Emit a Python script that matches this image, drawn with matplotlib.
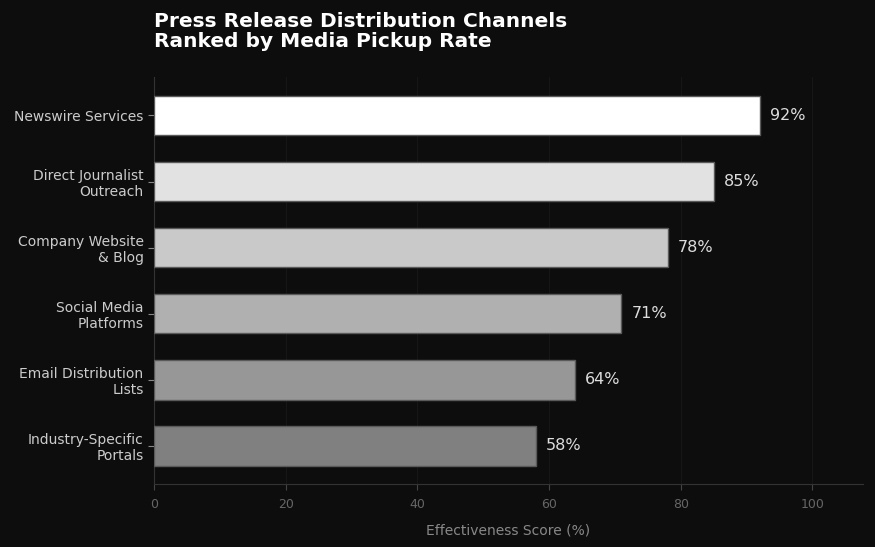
import matplotlib
matplotlib.use("Agg")
import matplotlib.pyplot as plt

channels = ["Newswire Services", "Direct Journalist\nOutreach", "Company Website\n& Blog",
            "Social Media\nPlatforms", "Email Distribution\nLists", "Industry-Specific\nPortals"]
scores = [92, 85, 78, 71, 64, 58]
bar_colors = ["#ffffff", "#e2e2e2", "#c9c9c9", "#b0b0b0", "#979797", "#808080"]
xticks = [0, 20, 40, 60, 80, 100]

bg = "#0d0d0d"
fig = plt.figure(figsize=(8.75, 5.47), dpi=100, facecolor=bg)
ax = fig.add_axes([0.176, 0.115, 0.81, 0.744], facecolor=bg)

y = list(range(len(channels)))
ax.barh(y, scores, height=0.6, color=bar_colors, edgecolor="#5a5a5a", linewidth=1, zorder=3)
ax.invert_yaxis()
ax.set_yticks(y)
ax.set_yticklabels(channels, color="#cccccc", fontsize=10)
ax.set_xticks(xticks)
ax.set_xticklabels([str(t) for t in xticks], color="#666666", fontsize=9)
ax.set_xlim(0, max(scores) * 1.17)

for yi, v in zip(y, scores):
    ax.text(v + 1.5, yi, f"{v}%", va="center", ha="left", color="#dddddd", fontsize=11.5, zorder=4)

ax.grid(axis="x", color="#161616", linewidth=0.8, zorder=0)
ax.set_axisbelow(True)
for s in ["top", "right"]:
    ax.spines[s].set_visible(False)
ax.spines["left"].set_color("#333333")
ax.spines["bottom"].set_color("#333333")
ax.tick_params(axis="x", colors="#444444", labelcolor="#666666", length=4, pad=6)
ax.tick_params(axis="y", colors="#888888", labelcolor="#cccccc", length=4)

ax.set_xlabel("Effectiveness Score (%)", color="#888888", fontsize=10, labelpad=9)

fig.text(0.176, 0.978, "Press Release Distribution Channels\nRanked by Media Pickup Rate",
         ha="left", va="top", color="white", fontsize=14.5, fontweight="bold", linespacing=1.05)

fig.savefig("out.png", dpi=100, facecolor=bg)
